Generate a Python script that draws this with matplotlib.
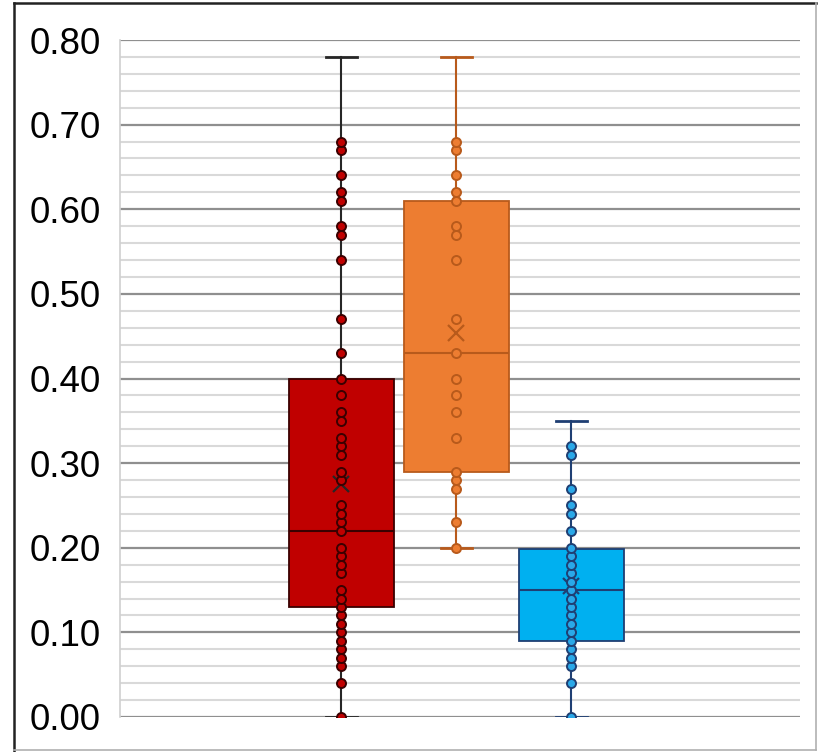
import matplotlib
matplotlib.use('Agg')
import matplotlib.pyplot as plt
from matplotlib.lines import Line2D

# raw points shown on each box
red_points = [0.00, 0.04, 0.06, 0.07, 0.08, 0.09, 0.10, 0.11, 0.12, 0.13, 0.14, 0.15,
              0.17, 0.18, 0.19, 0.20, 0.22, 0.23, 0.24, 0.25, 0.28, 0.29, 0.31, 0.32,
              0.33, 0.35, 0.36, 0.38, 0.40, 0.43, 0.47, 0.54, 0.57, 0.58, 0.61, 0.62,
              0.64, 0.67, 0.68]
orange_points = [0.20, 0.23, 0.27, 0.28, 0.29, 0.33, 0.36, 0.38, 0.40, 0.43, 0.47,
                 0.54, 0.57, 0.58, 0.61, 0.62, 0.64, 0.67, 0.68]
blue_points = [0.00, 0.04, 0.06, 0.07, 0.08, 0.09, 0.10, 0.11, 0.12, 0.13, 0.14, 0.15,
               0.16, 0.17, 0.18, 0.19, 0.20, 0.22, 0.24, 0.25, 0.27, 0.31, 0.32]

# box summary: whisker low, q1, median, q3, whisker high, mean
red_stats = [0.00, 0.13, 0.22, 0.40, 0.78, 0.275]
orange_stats = [0.20, 0.29, 0.43, 0.61, 0.78, 0.454]
blue_stats = [0.00, 0.09, 0.15, 0.198, 0.35, 0.155]

y_ticks = [0.0, 0.1, 0.2, 0.3, 0.4, 0.5, 0.6, 0.7, 0.8]

series = [
    (red_points, red_stats, '#C00000', '#3a0000', '#C00000', '#262626'),
    (orange_points, orange_stats, '#ED7D31', '#B85A1B', '#ED7D31', '#B85A1B'),
    (blue_points, blue_stats, '#00B0F0', '#1F3F73', '#2AA8E8', '#1F3F73'),
]

fig = plt.figure(figsize=(8.21, 7.52), dpi=100)
ax = fig.add_axes([120 / 821, 35 / 752, 680 / 821, 677 / 752])

# grid: minor every 0.02, major every 0.1
for v in [i * 0.02 for i in range(41)]:
    if round(v * 100) % 10 == 0:
        continue
    ax.axhline(v, color='#d9d9d9', lw=1.5, zorder=0)
for v in y_ticks:
    ax.axhline(v, color='#8f8f8f', lw=1.6, zorder=0.5)

for i, (pts, st, face, edge, dot, whisk) in enumerate(series):
    pos = i + 1
    stats = [dict(whislo=st[0], q1=st[1], med=st[2], q3=st[3], whishi=st[4],
                  mean=st[5], fliers=[])]
    ax.bxp(stats, positions=[pos], widths=0.913, showmeans=True, meanline=False,
           showfliers=False, patch_artist=True, manage_ticks=False,
           boxprops=dict(facecolor=face, edgecolor=edge, lw=1.3),
           medianprops=dict(color=edge, lw=1.5),
           whiskerprops=dict(color=whisk, lw=1.5),
           capprops=dict(color=whisk, lw=2.0),
           capwidths=0.27,
           meanprops=dict(marker='x', markersize=12, markeredgecolor=whisk,
                          markeredgewidth=1.6, markerfacecolor='none'),
           zorder=2)
    ax.plot([pos] * len(pts), pts, linestyle='none', marker='o', markersize=6.5,
            markerfacecolor=dot, markeredgecolor=edge, markeredgewidth=1.4, zorder=3)

ax.set_xlim(-0.922, 4.991)
ax.set_ylim(0, 0.8)
ax.set_yticks(y_ticks)
ax.set_yticklabels([f'{v:.2f}' for v in y_ticks], fontsize=26.5,
                   family=['Liberation Sans', 'DejaVu Sans'])
ax.set_xticks([])
ax.tick_params(axis='y', length=0, pad=14)
for s in ['top', 'right', 'bottom']:
    ax.spines[s].set_visible(False)
ax.spines['left'].set_color('#d0d0d0')
ax.spines['left'].set_linewidth(1.2)

# outer frame around the figure
W, H = 821, 752
fig.add_artist(Line2D([14 / W, 14 / W], [0, 1 - 3 / H], color='#222222', lw=1.8))
fig.add_artist(Line2D([14 / W, 816 / W], [1 - 3 / H, 1 - 3 / H], color='#222222', lw=1.8))
fig.add_artist(Line2D([816 / W, 816 / W], [2 / H, 1 - 3 / H], color='#b0b0b0', lw=1.2))
fig.add_artist(Line2D([14 / W, 816 / W], [2 / H, 2 / H], color='#b0b0b0', lw=1.2))

fig.savefig('out.png', dpi=100)
